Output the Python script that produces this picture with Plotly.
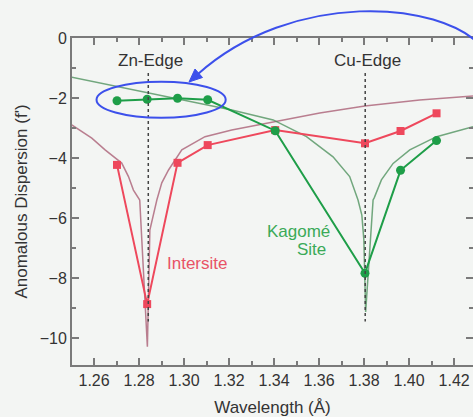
import plotly.graph_objects as go

# Measured anomalous dispersion f' at each wavelength (Å)
wavelength = [1.2702, 1.2836, 1.2971, 1.3105, 1.3405, 1.3804, 1.3962, 1.4122]
intersite = [-4.23, -8.87, -4.16, -3.57, -3.07, -3.51, -3.10, -2.51]
kagome = [-2.09, -2.04, -2.01, -2.06, -3.09, -7.84, -4.41, -3.42]

# Tabulated f' curves for the free atoms
zn_theory_x = [1.2501, 1.2590, 1.2649, 1.2723, 1.2753, 1.2775, 1.2803, 1.2833, 1.2837,
               1.2848, 1.2879, 1.2901, 1.2931, 1.2990, 1.3093, 1.3212, 1.3403, 1.3603,
               1.3803, 1.4047, 1.4284]
zn_theory_y = [-2.90, -3.34, -3.73, -4.17, -4.62, -5.07, -5.40, -10.07, -10.29,
               -6.40, -5.40, -4.83, -4.40, -3.73, -3.29, -3.07, -2.80, -2.50,
               -2.27, -2.07, -1.93]
cu_theory_x = [1.2501, 1.2848, 1.3212, 1.3396, 1.3544, 1.3662, 1.3736, 1.3773, 1.3790,
               1.3799, 1.3807, 1.3840, 1.3845, 1.3877, 1.3929, 1.4003, 1.4122, 1.4284]
cu_theory_y = [-1.31, -1.84, -2.40, -2.73, -3.29, -3.96, -4.62, -5.40, -5.90,
               -6.73, -9.13, -5.40, -5.33, -4.73, -4.18, -3.73, -3.29, -2.96]

edge_names = ["Zn-Edge", "Cu-Edge"]
edge_wavelengths = [1.2841, 1.3805]

x_ticks = [1.26, 1.28, 1.30, 1.32, 1.34, 1.36, 1.38, 1.40, 1.42]
y_ticks = [-10, -8, -6, -4, -2, 0]

FONT = "Liberation Sans, Arial, Helvetica, sans-serif"
RED = "rgb(238,72,92)"
GREEN = "rgb(30,158,72)"
AXIS = "#7a7a7a"
BG = "#f3f5f3"

W, H = 473, 417
ML, MR, MT, MB = 72, 0, 38, 52
PW, PH = W - ML - MR, H - MT - MB


def to_paper(px, py):
    """Pixel position on the page -> paper coordinates."""
    return (px - ML) / PW, (H - MB - py) / PH


fig = go.Figure()

fig.add_trace(go.Scatter(x=zn_theory_x, y=zn_theory_y, mode="lines",
                         line=dict(color="rgba(165,85,110,0.75)", width=1.5),
                         hoverinfo="skip", showlegend=False))
fig.add_trace(go.Scatter(x=cu_theory_x, y=cu_theory_y, mode="lines",
                         line=dict(color="rgba(70,140,85,0.75)", width=1.5),
                         hoverinfo="skip", showlegend=False))
fig.add_trace(go.Scatter(x=wavelength, y=intersite, mode="lines+markers", name="Intersite",
                         line=dict(color=RED, width=2),
                         marker=dict(symbol="square", size=8, color=RED),
                         showlegend=False))
fig.add_trace(go.Scatter(x=wavelength, y=kagome, mode="lines+markers", name="Kagomé Site",
                         line=dict(color=GREEN, width=2),
                         marker=dict(symbol="circle", size=9, color=GREEN),
                         showlegend=False))
# empty trace so the right-hand tick axis is drawn
fig.add_trace(go.Scatter(x=[], y=[], yaxis="y2", showlegend=False, hoverinfo="skip"))

shapes = []
annotations = []
for name, wl in zip(edge_names, edge_wavelengths):
    shapes.append(dict(type="line", xref="x", yref="y", x0=wl, x1=wl, y0=-1.17, y1=-9.45,
                       line=dict(color="#444444", width=1.5, dash="dot")))
    annotations.append(dict(x=wl + 0.001, y=-0.75, xref="x", yref="y", text=name,
                            showarrow=False, font=dict(family=FONT, size=17, color="#333333")))

# highlight around the Zn-edge Kagomé points
shapes.append(dict(type="circle", xref="x", yref="y", x0=1.2611, x1=1.3185, y0=-1.457, y1=-2.657,
                   line=dict(color="rgb(60,80,235)", width=2)))

# curved pointer arrow coming in from the top right
p0 = to_paper(482, 47)
c1 = to_paper(440, 0)
c2 = to_paper(292, -10)
p3 = to_paper(198, 74)
shapes.append(dict(type="path", xref="paper", yref="paper",
                   path=f"M {p0[0]},{p0[1]} C {c1[0]},{c1[1]} {c2[0]},{c2[1]} {p3[0]},{p3[1]}",
                   line=dict(color="rgb(60,80,235)", width=2)))
tip = to_paper(189, 82)
b1 = to_paper(202.5, 77.5)
b2 = to_paper(195, 69)
shapes.append(dict(type="path", xref="paper", yref="paper",
                   path=f"M {tip[0]},{tip[1]} L {b1[0]},{b1[1]} L {b2[0]},{b2[1]} Z",
                   fillcolor="rgb(60,80,235)", line=dict(color="rgb(60,80,235)", width=1)))

annotations += [
    dict(x=1.3059, y=-7.53, xref="x", yref="y", text="Intersite", showarrow=False,
         font=dict(family=FONT, size=17, color="rgb(232,82,102)")),
    dict(x=1.3657, y=-6.46, xref="x", yref="y", text="Kagomé", showarrow=False, xanchor="right",
         font=dict(family=FONT, size=17, color="rgb(58,170,88)")),
    dict(x=1.3641, y=-7.05, xref="x", yref="y", text="Site", showarrow=False, xanchor="right",
         font=dict(family=FONT, size=17, color="rgb(58,170,88)")),
]

tick_style = dict(ticks="inside", tickcolor=AXIS, tickwidth=1.5, showgrid=False, zeroline=False)

fig.update_layout(
    width=W, height=H,
    margin=dict(l=ML, r=MR, t=MT, b=MB, pad=0),
    paper_bgcolor=BG, plot_bgcolor=BG,
    font=dict(family=FONT, size=16, color="#333333"),
    shapes=shapes, annotations=annotations,
    xaxis=dict(range=[1.2502, 1.4284], tickvals=x_ticks, tickformat=".2f", ticklen=7,
               showline=True, linecolor=AXIS, linewidth=2, mirror="ticks",
               minor=dict(dtick=0.01, tick0=1.25, ticks="inside", ticklen=4, tickcolor=AXIS),
               title=dict(text="Wavelength (Å)", font=dict(size=17), standoff=13),
               tickfont=dict(size=16), **tick_style),
    yaxis=dict(range=[-10.9, 0], tickvals=y_ticks, ticklen=7,
               showline=True, linecolor=AXIS, linewidth=2,
               minor=dict(dtick=1, tick0=0, ticks="inside", ticklen=4, tickcolor=AXIS),
               title=dict(text="Anomalous Dispersion (f')", font=dict(size=17), standoff=8),
               tickfont=dict(size=16), **tick_style),
    yaxis2=dict(overlaying="y", side="right", matches="y", range=[-10.9, 0], tickvals=y_ticks,
                ticklen=7, showticklabels=False, showline=False,
                minor=dict(dtick=1, tick0=0, ticks="inside", ticklen=4, tickcolor=AXIS),
                **tick_style),
)

fig.write_html("out.html")
